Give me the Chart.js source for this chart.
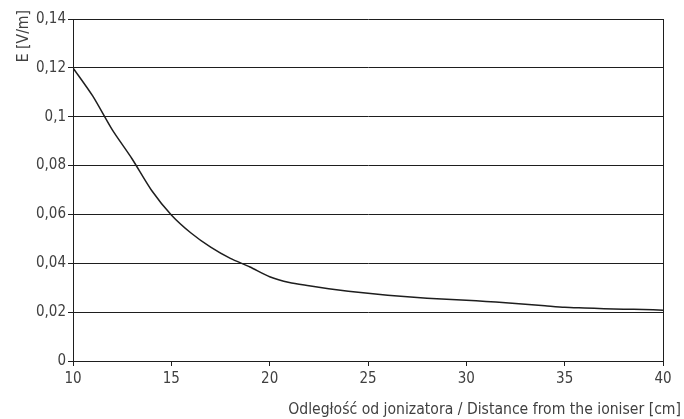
<!DOCTYPE html>
<html>
<head>
<meta charset="utf-8">
<script src="https://cdn.jsdelivr.net/npm/chart.js@4"></script>
<style>
html,body{margin:0;padding:0;background:#fff;}
#wrap{width:684px;height:419px;position:relative;}
</style>
</head>
<body>
<div id="wrap"><canvas id="c" width="684" height="419"></canvas></div>
<script>
const distances = [10,11,12,13,14,15,16,17,18,19,20,21,22,23,24,25,26,27,28,29,30,31,32,33,34,35,36,37,38,39,40];
const fieldValues = [0.1200,0.1085,0.0946,0.0828,0.0698,0.0598,0.0524,0.0466,0.0420,0.0385,0.0345,0.0321,0.0308,0.0296,0.0286,0.0277,0.0269,0.0263,0.0257,0.0253,0.0249,0.0244,0.0238,0.0232,0.0226,0.0220,0.0217,0.0214,0.0212,0.0211,0.0208];
const xTicks = [10,15,20,25,30,35,40];
const yTicks = [0,0.02,0.04,0.06,0.08,0.1,0.12,0.14];
const yTitle = 'E [V/m]';
const xTitle = 'Odległość od jonizatora / Distance from the ioniser [cm]';

const FONT = "'Liberation Sans Narrow', 'DejaVu Sans Condensed', 'Roboto', sans-serif";
const TEXT = '#404040';
const LINE = '#1e1e1e';

const titlesPlugin = {
  id: 'titles',
  afterDraw(chart) {
    const ctx = chart.ctx;
    ctx.save();
    ctx.fillStyle = TEXT;
    ctx.font = '15.6px ' + FONT;
    ctx.textAlign = 'right';
    ctx.textBaseline = 'alphabetic';
    ctx.fillText(xTitle, 681, 414);
    ctx.translate(28, 10);
    ctx.rotate(-Math.PI / 2);
    ctx.textAlign = 'right';
    ctx.fillText(yTitle, 0, 0);
    ctx.restore();
  }
};

new Chart(document.getElementById('c'), {
  type: 'line',
  data: {
    datasets: [{
      data: distances.map((d, i) => ({x: d, y: fieldValues[i]})),
      borderColor: LINE,
      borderWidth: 1.5,
      pointRadius: 0,
      tension: 0.25,
      fill: false
    }]
  },
  options: {
    responsive: false,
    animation: false,
    devicePixelRatio: 1,
    layout: {padding: {left: 0, right: 21, top: 19, bottom: 0}},
    plugins: {legend: {display: false}, tooltip: {enabled: false}},
    scales: {
      x: {
        type: 'linear',
        min: 10, max: 40,
        afterFit(s) { s.height = 58; },
        afterBuildTicks(s) { s.ticks = xTicks.map(v => ({value: v})); },
        ticks: {
          color: TEXT,
          font: {family: FONT, size: 15},
          padding: 4,
          maxRotation: 0,
          callback: v => String(v)
        },
        grid: {
          color: c => (c.tick && c.tick.value === 40) ? LINE : 'rgba(0,0,0,0)',
          tickColor: LINE,
          tickLength: 5,
          lineWidth: 1
        },
        border: {display: true, color: LINE, width: 1}
      },
      y: {
        type: 'linear',
        min: 0, max: 0.14,
        afterFit(s) { s.width = 73; },
        afterBuildTicks(s) { s.ticks = yTicks.map(v => ({value: v})); },
        ticks: {
          color: TEXT,
          font: {family: FONT, size: 15},
          padding: 2,
          callback: v => String(Math.round(v * 100) / 100).replace('.', ',')
        },
        grid: {
          color: LINE,
          tickColor: LINE,
          tickLength: 5,
          lineWidth: 1
        },
        border: {display: true, color: LINE, width: 1}
      }
    }
  },
  plugins: [titlesPlugin]
});
</script>
</body>
</html>
